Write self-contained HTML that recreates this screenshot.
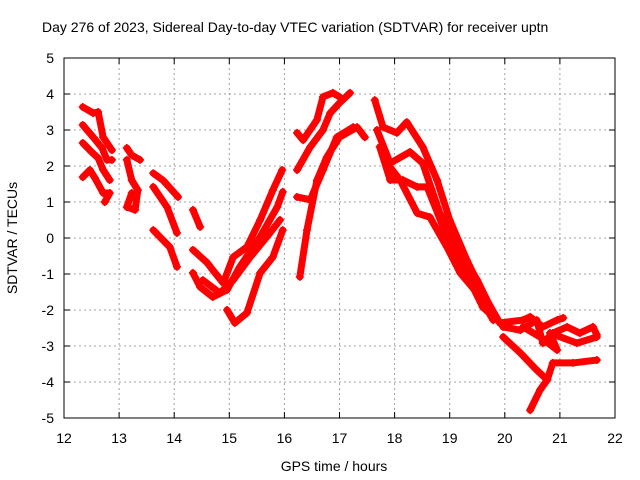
<!DOCTYPE html>
<html><head><meta charset="utf-8"><style>
body{margin:0;background:#fff}
svg{display:block;font-family:"Liberation Sans",sans-serif;font-size:14px}
</style></head><body>
<svg id="chart" width="640" height="480" viewBox="0 0 640 480">
<rect width="640" height="480" fill="#fff"/>
<text x="42" y="32">Day 276 of 2023, Sidereal Day-to-day VTEC variation (SDTVAR) for receiver uptn</text>
<g id="grid"></g>
<g id="ticks"></g>
<g id="series"></g>
<rect x="64" y="58" width="551" height="360" fill="none" stroke="#000" stroke-width="1"/>
<text x="334" y="471" text-anchor="middle">GPS time / hours</text>
<text transform="translate(17,238) rotate(-90)" text-anchor="middle">SDTVAR / TECUs</text>
</svg>
<script>
const xTicks=[12,13,14,15,16,17,18,19,20,21,22];
const yTicks=[-5,-4,-3,-2,-1,0,1,2,3,4,5];
const tracks=[
[[12.34,3.64],[12.53,3.47],[12.62,3.5],[12.71,2.8],[12.87,2.44]],
[[12.34,3.14],[12.53,2.8],[12.69,2.5],[12.78,2.17],[12.87,2.17]],
[[12.34,2.64],[12.5,2.39],[12.62,2.22],[12.71,1.89],[12.83,1.61]],
[[12.34,1.69],[12.47,1.89],[12.56,1.67],[12.71,1.25],[12.83,1.25],[12.74,1.0]],
[[13.14,2.5],[13.23,2.3],[13.38,2.17]],
[[13.14,2.17],[13.23,1.6],[13.34,1.33],[13.29,0.78],[13.14,0.86],[13.23,1.25]],
[[13.62,1.8],[13.8,1.6],[14.07,1.14]],
[[13.62,1.42],[13.87,0.86],[14.05,0.14]],
[[13.62,0.22],[13.74,0.03],[13.92,-0.25],[14.05,-0.8]],
[[14.34,0.78],[14.47,0.31]],
[[14.34,-0.33],[14.6,-0.69],[14.7,-0.89],[14.89,-1.25],[15.07,-0.53],[15.32,-0.25],[15.56,0.5],[15.79,1.33],[15.96,1.89]],
[[14.34,-0.97],[14.47,-1.36],[14.7,-1.64],[14.96,-1.44],[15.19,-0.8],[15.56,0.03],[15.87,0.86],[15.97,1.28]],
[[14.52,-1.17],[14.83,-1.53],[15.07,-1.17],[15.38,-0.53],[15.68,0.03],[15.92,0.5]],
[[14.96,-2.0],[15.1,-2.36],[15.32,-2.08],[15.56,-0.97],[15.79,-0.53],[15.97,0.22]],
[[16.28,-1.08],[16.41,0.22],[16.59,1.6],[16.77,2.25],[17.0,2.8],[17.32,3.08],[17.46,2.8]],
[[16.23,1.14],[16.47,1.06],[16.7,1.89],[16.95,2.8],[17.25,3.08]],
[[16.23,1.89],[16.47,2.53],[16.7,3.0],[16.83,3.47],[17.0,3.75],[17.19,4.03]],
[[16.23,2.92],[16.34,2.72],[16.59,3.28],[16.7,3.92],[16.88,4.03],[17.0,3.92]],
[[17.64,3.83],[17.79,3.08],[18.04,2.92],[18.22,3.22],[18.51,2.53],[18.77,1.61],[19.0,0.5],[19.31,-0.61],[19.6,-1.53],[19.91,-2.36]],
[[17.68,3.0],[17.92,2.08],[18.28,2.39],[18.51,2.08],[18.82,0.69],[19.13,-0.25],[19.5,-1.17],[19.79,-2.08]],
[[17.73,2.53],[17.92,1.61],[18.15,1.61],[18.41,1.42],[18.59,1.42],[18.88,0.31],[19.24,-0.8],[19.6,-1.92],[19.86,-2.28]],
[[17.86,2.08],[18.1,1.61],[18.41,0.69],[18.64,0.58],[18.95,-0.25],[19.19,-0.97],[19.5,-1.53],[19.79,-2.28]],
[[19.91,-2.36],[20.33,-2.28],[20.46,-2.19],[20.69,-2.47],[20.95,-2.28],[21.06,-2.22]],
[[19.97,-2.47],[20.28,-2.56],[20.58,-2.28],[20.69,-2.92],[20.87,-2.64],[21.13,-2.47],[21.36,-2.64],[21.6,-2.47],[21.67,-2.69]],
[[20.33,-2.47],[20.64,-2.75],[20.95,-3.11],[20.82,-2.64],[21.31,-2.92],[21.67,-2.75]],
[[19.97,-2.75],[20.28,-3.19],[20.58,-3.67],[20.77,-3.94],[20.64,-4.22],[20.46,-4.78]],
[[20.77,-3.94],[20.87,-3.47],[21.24,-3.47],[21.67,-3.39]]
];
const NS="http://www.w3.org/2000/svg";
const X0=64,X1=615,Y0=418,Y1=58;
function sx(v){return X0+(v-12)/10*(X1-X0);}
function sy(v){return Y0-(v+5)/10*(Y0-Y1);}
function mk(tag,attrs,parent){const e=document.createElementNS(NS,tag);for(const k in attrs)e.setAttribute(k,attrs[k]);parent.appendChild(e);return e;}
const grid=document.getElementById('grid'),ticks=document.getElementById('ticks'),ser=document.getElementById('series');
xTicks.forEach(t=>{
 const x=sx(t);
 if(t>12&&t<22){const g=mk('line',{x1:x,x2:x,y1:Y1,y2:Y0,stroke:'#a0a0a0','stroke-dasharray':'2,3'},grid);
 
 }
 mk('line',{x1:x,x2:x,y1:Y0,y2:Y0-6,stroke:'#000'},ticks);
 mk('line',{x1:x,x2:x,y1:Y1,y2:Y1+6,stroke:'#000'},ticks);
 const l=mk('text',{x:x,y:Y0+25,'text-anchor':'middle'},ticks);l.textContent=t;
 
 
});
yTicks.forEach(t=>{
 const y=sy(t);
 if(t>-5&&t<5){const g=mk('line',{x1:X0,x2:X1,y1:y,y2:y,stroke:'#a0a0a0','stroke-dasharray':'2,3'},grid);
 
 }
 mk('line',{x1:X0,x2:X0+6,y1:y,y2:y,stroke:'#000'},ticks);
 mk('line',{x1:X1,x2:X1-6,y1:y,y2:y,stroke:'#000'},ticks);
 const l=mk('text',{x:X0-10,y:y+5,'text-anchor':'end'},ticks);l.textContent=t;
 
 
});
tracks.forEach((tr,i)=>{
 const p=mk('polyline',{points:tr.map(d=>sx(d[0])+','+sy(d[1])).join(' '),fill:'none',stroke:'#f00','stroke-width':7,'stroke-linejoin':'round','stroke-linecap':'round'},ser);
 
 
 tr.forEach(d=>{
  const x=sx(d[0]),y=sy(d[1]);
  const m=mk('path',{d:`M${x-4},${y}H${x+4}M${x},${y-4}V${y+4}`,stroke:'#f00','stroke-width':1.5},ser);
  
  
 });
});
</script>
</body></html>
